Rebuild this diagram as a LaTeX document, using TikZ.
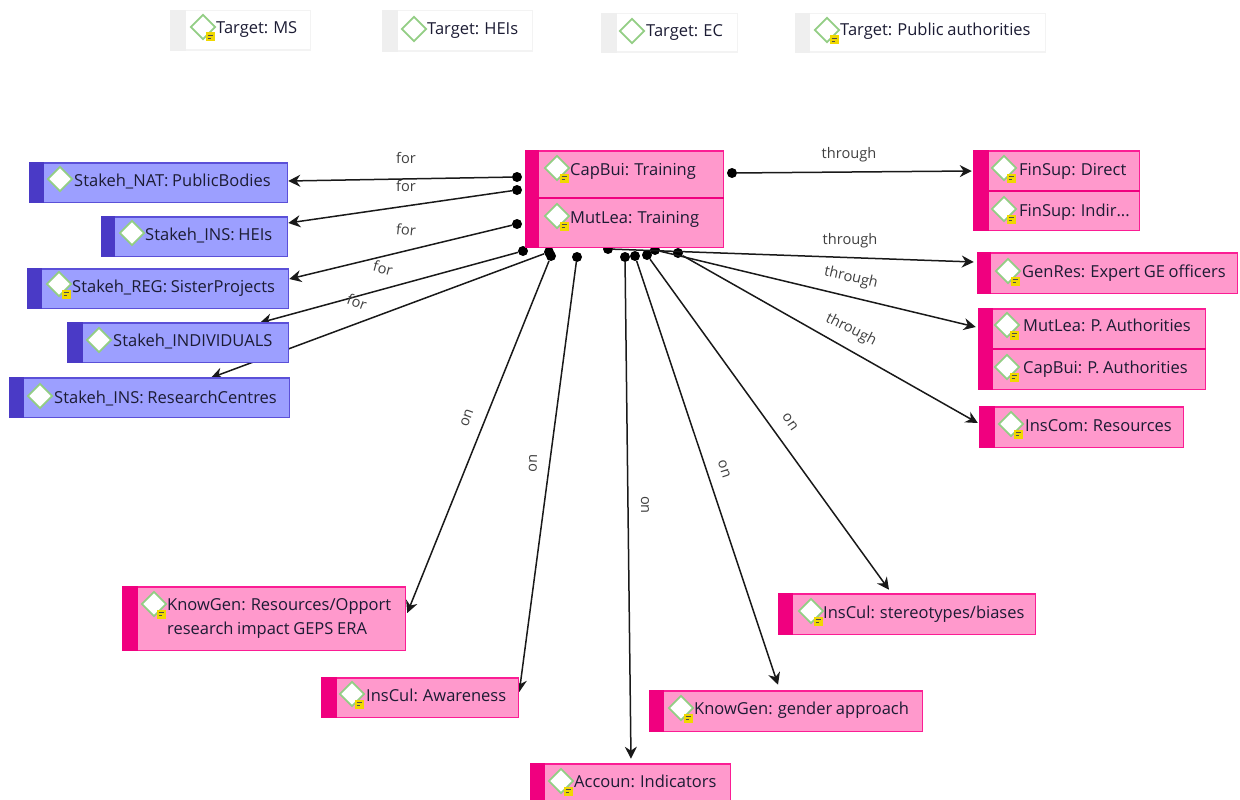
\documentclass[tikz,border=0pt]{standalone}
\usepackage{fontspec}
\setmainfont[WordSpace=0.85]{Open Sans}
\usetikzlibrary{arrows.meta,shapes.geometric,backgrounds}
\definecolor{pinkfill}{HTML}{FF99CC}
\definecolor{pinkline}{HTML}{FB1D94}
\definecolor{pinkstrip}{HTML}{F0007F}
\definecolor{bluefill}{HTML}{9C9FFF}
\definecolor{blueline}{HTML}{5B50D8}
\definecolor{bluestrip}{HTML}{4A3AC6}
\definecolor{tgtline}{HTML}{F3F3F3}
\definecolor{tgtstrip}{HTML}{EFEFEF}
\definecolor{diamline}{HTML}{93CE85}
\definecolor{inktext}{HTML}{1C1C34}
\definecolor{notefill}{HTML}{F0D800}
\tikzset{
  x=1pt,y=-1pt,
  dotnode/.style={circle,fill=black,minimum size=10pt,inner sep=0pt},
  conn/.style={line width=1.5pt,draw=black!90,-{Stealth[length=12pt,width=12pt]}},
  rel/.style={font=\fontsize{14.6}{17}\selectfont,text=black!75,inner sep=0pt},
  txt/.style={font=\fontsize{16.5}{24}\selectfont,anchor=west,align=left,inner sep=0pt,text=inktext},
  txtone/.style={txt,text height=14pt,text depth=2pt},
  gem/.style={diamond,draw=diamline,fill=white,line width=1.7pt,minimum size=25pt,inner sep=0pt},
  notebox/.style={fill=notefill,minimum size=9pt,inner sep=0pt},
  pinkbox/.style={fill=pinkfill,draw=pinkline},
  bluebox/.style={fill=bluefill,draw=blueline},
  tgtbox/.style={fill=white,draw=tgtline}
}
% name, x1,y1, xs, x2,y2, style, strip colour
\newcommand{\ebox}[8]{%
  \pgfmathsetmacro{\ww}{#5-#2-1.5}\pgfmathsetmacro{\hh}{#6-#3-1.5}%
  \node[#7,line width=1.5pt,outer sep=0pt,anchor=north west,minimum width=\ww pt,minimum height=\hh pt,inner sep=0pt] (#1) at (#2+0.75,#3+0.75) {};
  \fill[#8] (#2,#3) rectangle (#4,#6);
}
% name, dx,dy, tx,ty, text
\newcommand{\eitem}[6]{%
  \node[gem] (#1d) at (#2,#3) {};
  \node[txtone] (#1t) at (#4,#5) {#6};
}
\newcommand{\enote}[3]{%
  \node[notebox] (#1n) at (#2+7,#3+10) {};
  \draw[black!70,line width=0.9pt] (#2+4.5,#3+8.8) -- (#2+9.5,#3+8.8) (#2+4.5,#3+11.3) -- (#2+8,#3+11.3);
}
\begin{document}
\begin{tikzpicture}
\useasboundingbox (0,0) rectangle (1240,800);
% targets
\ebox{tA}{170}{10}{186}{311}{51}{tgtbox}{tgtstrip}
\eitem{tA}{203}{27}{216}{28}{Target: MS}\enote{tA}{203}{27}
\ebox{tB}{382}{10}{398}{533}{52}{tgtbox}{tgtstrip}
\eitem{tB}{414}{29}{427}{29}{Target: HEIs}
\ebox{tC}{601}{13}{617}{738}{53}{tgtbox}{tgtstrip}
\eitem{tC}{632}{31}{646}{31}{Target: EC}
\ebox{tD}{795}{13}{810}{1046}{53}{tgtbox}{tgtstrip}
\eitem{tD}{827}{30}{840}{30}{Target: Public authorities}\enote{tD}{827}{30}
% centre group
\ebox{ctr}{525}{150}{539}{724}{248}{pinkbox}{pinkstrip}
\draw[pinkstrip,line width=2pt] (539,198) -- (724,198);
\eitem{cA}{557}{168}{570}{169}{CapBui: Training}\enote{cA}{557}{168}
\eitem{cB}{557}{216}{570}{217}{MutLea: Training}\enote{cB}{557}{216}
% stakeholders
\ebox{sA}{29}{162}{44}{288}{203}{bluebox}{bluestrip}
\eitem{sA}{60}{179}{74}{180}{Stakeh\_NAT: PublicBodies}
\ebox{sB}{101}{216}{115}{288}{257}{bluebox}{bluestrip}
\eitem{sB}{132}{233}{145}{234}{Stakeh\_INS: HEIs}
\ebox{sC}{27}{268}{42}{289}{309}{bluebox}{bluestrip}
\eitem{sC}{59}{284}{72}{286}{Stakeh\_REG: SisterProjects}\enote{sC}{59}{284}
\ebox{sD}{67}{322}{83}{289}{363}{bluebox}{bluestrip}
\eitem{sD}{99}{340}{113}{340}{Stakeh\_INDIVIDUALS}
\ebox{sE}{9}{377}{24}{290}{418}{bluebox}{bluestrip}
\eitem{sE}{40}{396}{54}{397}{Stakeh\_INS: ResearchCentres}
% right
\ebox{rA}{973}{150}{989}{1140}{231}{pinkbox}{pinkstrip}
\draw[pinkstrip,line width=1.5pt] (989,191) -- (1140,191);
\eitem{rAa}{1004}{168}{1019}{169}{FinSup: Direct}\enote{rAa}{1004}{168}
\eitem{rAb}{1004}{209}{1019}{210}{FinSup: Indir...}\enote{rAb}{1004}{209}
\ebox{rB}{977}{252}{991}{1238}{294}{pinkbox}{pinkstrip}
\eitem{rB}{1008}{271}{1022}{271}{GenRes: Expert GE officers}\enote{rB}{1008}{271}
\ebox{rC}{978}{308}{993}{1206}{390}{pinkbox}{pinkstrip}
\draw[pinkstrip,line width=2pt] (993,349) -- (1206,349);
\eitem{rCa}{1007}{325}{1023}{325}{MutLea: P. Authorities}\enote{rCa}{1007}{325}
\eitem{rCb}{1007}{367}{1023}{367}{CapBui: P. Authorities}\enote{rCb}{1007}{367}
\ebox{rD}{979}{406}{995}{1184}{448}{pinkbox}{pinkstrip}
\eitem{rD}{1011}{424}{1025}{425}{InsCom: Resources}\enote{rD}{1011}{424}
% bottom
\ebox{bA}{122}{586}{138}{406}{651}{pinkbox}{pinkstrip}
\node[gem] (bAd) at (154,604) {};
\node[txt] (bAt) at (167,618) {KnowGen: Resources/Opport\\research impact GEPS ERA};
\enote{bA}{154}{604}
\ebox{bB}{321}{677}{337}{519}{718}{pinkbox}{pinkstrip}
\eitem{bB}{352}{694}{366}{695}{InsCul: Awareness}\enote{bB}{352}{694}
\ebox{bC}{530}{763}{545}{731}{802}{pinkbox}{pinkstrip}
\eitem{bC}{561}{781}{574}{781}{Accoun: Indicators}\enote{bC}{561}{781}
\ebox{bD}{649}{690}{664}{923}{732}{pinkbox}{pinkstrip}
\eitem{bD}{681}{708}{694}{708}{KnowGen: gender approach}\enote{bD}{681}{708}
\ebox{bE}{778}{593}{793}{1036}{635}{pinkbox}{pinkstrip}
\eitem{bE}{811}{611}{823}{612}{InsCul: stereotypes/biases}\enote{bE}{811}{611}
% connectors
\begin{scope}[on background layer]
\node[dotnode] (d1) at (517,177) {};
\node[dotnode] (d2) at (517,190) {};
\node[dotnode] (d3) at (517,224) {};
\node[dotnode] (d4) at (523,251) {};
\node[dotnode] (d5) at (549,252) {};
\node[dotnode] (d6) at (551,256) {};
\node[dotnode] (d7) at (577,257) {};
\node[dotnode] (d8) at (625,257) {};
\node[dotnode] (d9) at (635,256) {};
\node[dotnode] (d10) at (647,255) {};
\node[dotnode] (d11) at (608,249) {};
\node[dotnode] (d12) at (655,250) {};
\node[dotnode] (d13) at (678,253) {};
\node[dotnode] (d14) at (732,173) {};
\draw[conn] (d1) -- ([shift={(1,-1.5)}]sA.east);
\draw[conn] (d2) -- ([shift={(1,-13.5)}]sB.east);
\draw[conn] (d3) -- ([shift={(1,-9.5)}]sC.east);
\draw[conn] (d4) -- ([shift={(82,0)}]sD.north);
\draw[conn] (d5) -- ([shift={(61.5,0)}]sE.north);
\draw[conn] (d6) -- ([shift={(2,-5.5)}]bA.east);
\draw[conn] (d7) -- ([shift={(1,-5.5)}]bB.east);
\draw[conn] (d8) -- ([shift={(0.5,-5)}]bC.north);
\draw[conn] (d9) -- ([shift={(-8,-6)}]bD.north);
\draw[conn] (d10) -- ([shift={(-18,-4)}]bE.north);
\draw[conn] (d11) -- ([shift={(-4,-11)}]rB.west);
\draw[conn] (d12) -- ([shift={(-3,-22)}]rC.west);
\draw[conn] (d13) -- ([shift={(-2,-4)}]rD.west);
\draw[conn] (d14) -- ([shift={(-2,-19.5)}]rA.west);
\end{scope}
% relation labels
\node[rel] (l1) at (406,158) {for};
\node[rel] (l2) at (406,186) {for};
\node[rel,rotate=-6] (l3) at (406,230) {for};
\node[rel,rotate=-15] (l4) at (383,268) {for};
\node[rel,rotate=-20] (l5) at (357,302) {for};
\node[rel] (l6) at (849,155) {through};
\node[rel] (l7) at (850,241) {through};
\node[rel,rotate=-13] (l8) at (851,278) {through};
\node[rel,rotate=-27] (l9) at (851,330) {through};
\node[rel,rotate=70] (l10) at (467,418) {on};
\node[rel,rotate=88] (l11) at (533,463) {on};
\node[rel,rotate=-90] (l12) at (645,505) {on};
\node[rel,rotate=-72] (l13) at (724,469) {on};
\node[rel,rotate=-55] (l14) at (790,422) {on};
\end{tikzpicture}
\end{document}
